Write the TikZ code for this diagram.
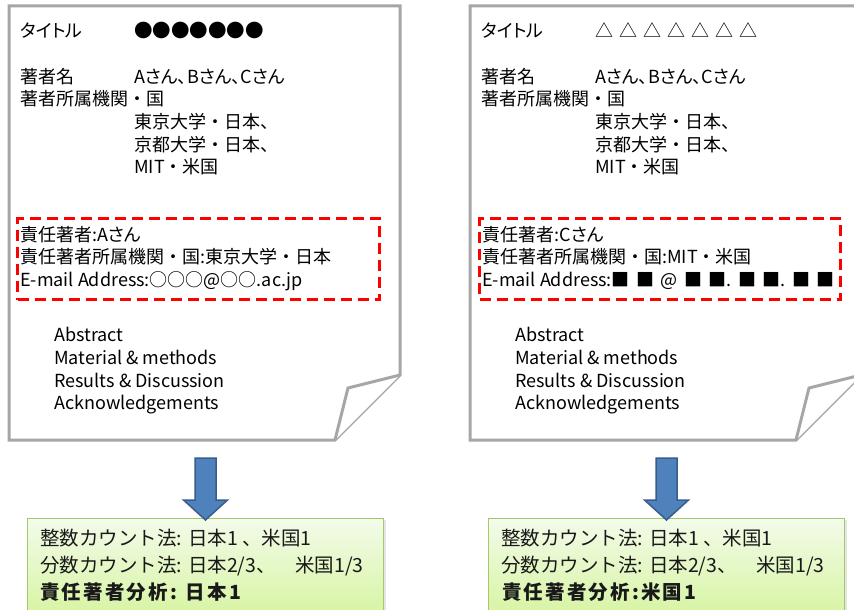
\documentclass[tikz,border=0pt]{standalone}
\usepackage{fontspec}
\setmainfont{Noto Sans CJK JP}[RawFeature=+palt]
\newfontfamily\jpfull{Noto Sans CJK JP}
\newcommand{\nkg}{{\jpfull ・}}
\usetikzlibrary{calc}
\usetikzlibrary{positioning}
\usetikzlibrary{shadows}
\definecolor{pageGray}{HTML}{A6A6A6}
\definecolor{dashRed}{HTML}{FF0000}
\definecolor{arrowBlue}{HTML}{4F81BD}
\definecolor{arrowEdge}{HTML}{385D8A}
\definecolor{boxEdge}{HTML}{A2C96A}
\definecolor{boxTop}{HTML}{F3FBEA}
\definecolor{boxBottom}{HTML}{D6F4A0}
\tikzset{every picture/.style={semithick}}
\tikzset{page/.style={draw=pageGray, line width=3pt, fill=white, line join=miter}}
\tikzset{dashbox/.style={draw=dashRed, line width=3pt, dash pattern=on 11pt off 6pt, inner sep=0pt, anchor=north west}}
\tikzset{txt/.style={anchor=base west, inner sep=0pt, font=\fontsize{18}{22}\selectfont}}
\tikzset{restxt/.style={anchor=base west, inner sep=0pt, font=\jpfull\fontsize{19.5}{27}\selectfont, text=black!90}}
\tikzset{resbold/.style={restxt, font=\jpfull\bfseries\fontsize{19.5}{27}\selectfont\addfontfeature{LetterSpace=11}}}
\tikzset{resultbox/.style={draw=boxEdge, line width=1pt, top color=boxTop, bottom color=boxBottom, anchor=north west, inner sep=0pt, drop shadow={opacity=0.2, shadow xshift=2pt, shadow yshift=-1pt}}}
\tikzset{blockarrow/.style={fill=arrowBlue, draw=arrowEdge, line width=1.5pt, line join=miter}}

\begin{document}
\begin{tikzpicture}[x=1pt,y=-1pt]
    \clip (0,0) rectangle (854,610);
    \fill[white] (0,0) rectangle (854,610);
    % two pages, same frame
    \foreach \s/\dx in {L/0,R/461} {
        \begin{scope}[xshift=\dx]
            \draw[page] (9,6) -- (400,6) -- (400,375) -- (335,440) -- (9,440) -- cycle;
            \draw[page] (400,375) -- (348,388) -- (335,440);
            \node[txt] (title\s) at (20,38) {タイトル};
            \node[txt] (auth\s) at (20,83) {著者名};
            \node[txt] (names\s) at (134,83) {Aさん、Bさん、Cさん};
            \node[txt] (affil\s) at (20,105) {著者所属機関\nkg 国};
            \node[txt] (affa\s) at (134,128) {東京大学\nkg 日本、};
            \node[txt] (affb\s) at (134,151) {京都大学\nkg 日本、};
            \node[txt] (affc\s) at (134,173) {MIT\nkg 米国};
            \foreach \sec/\y [count=\i] in {Abstract/341,Material \& methods/364,Results \& Discussion/387,Acknowledgements/409}
                \node[txt] (sec\s\i) at (54,\y) {\sec};
            \node[resultbox, minimum width=356, minimum height=100] (res\s) at (27,518) {};
            \node[restxt] (whole\s) at (40,545) {整数カウント法: 日本1 、米国1};
            \node[restxt] (frac\s) at (40,572) {分数カウント法: 日本2/3、　米国1/3};
            \coordinate (arr\s) at (205.5,458);
            \coordinate (tip\s) at (205.5,520);
            \draw[blockarrow] (arr\s) ++(-10.5,0) -- ++(21,0) -- ++(0,42) -- ++(11.5,0)
                -- (tip\s) -- ++(-22,-20) -- ++(11.5,0) -- cycle;
        \end{scope}
    }
    % left page
    \node[txt] (marksL) at (134,38) {\fontsize{18.5}{22}\selectfont ●●●●●●●};
    \node[dashbox, minimum width=362, minimum height=81] (respL) at (16,217) {};
    \node[txt] (corrL) at (20,241) {責任著者:Aさん};
    \node[txt] (caffL) at (20,263) {責任著者所属機関\nkg 国:東京大学\nkg 日本};
    \node[txt] (mailL) at (20,286) {E-mail Address:○○○@○○.ac.jp};
    \node[resbold] (corrcL) at (40,599) {責任著者分析: 日本1};
    % right page
    \node[txt] (marksR) at (595,38) {△\hspace{6pt}△\hspace{6pt}△\hspace{6pt}△\hspace{6pt}△\hspace{6pt}△\hspace{6pt}△};
    \node[dashbox, minimum width=361, minimum height=81] (respR) at (478,217) {};
    \node[txt] (corrR) at (482,241) {責任著者:Cさん};
    \node[txt] (caffR) at (482,263) {責任著者所属機関\nkg 国:MIT\nkg 米国};
    \node[txt] (mailR) at (482,286) {E-mail Address:■\hspace{6.5pt}■\hspace{6.5pt}@\hspace{6.5pt}■\hspace{6.5pt}■.\hspace{6.5pt}■\hspace{6.5pt}■.\hspace{6.5pt}■\hspace{6.5pt}■};
    \node[resbold] (corrcR) at (502,599) {責任著者分析:米国1};
\end{tikzpicture}
\end{document}
